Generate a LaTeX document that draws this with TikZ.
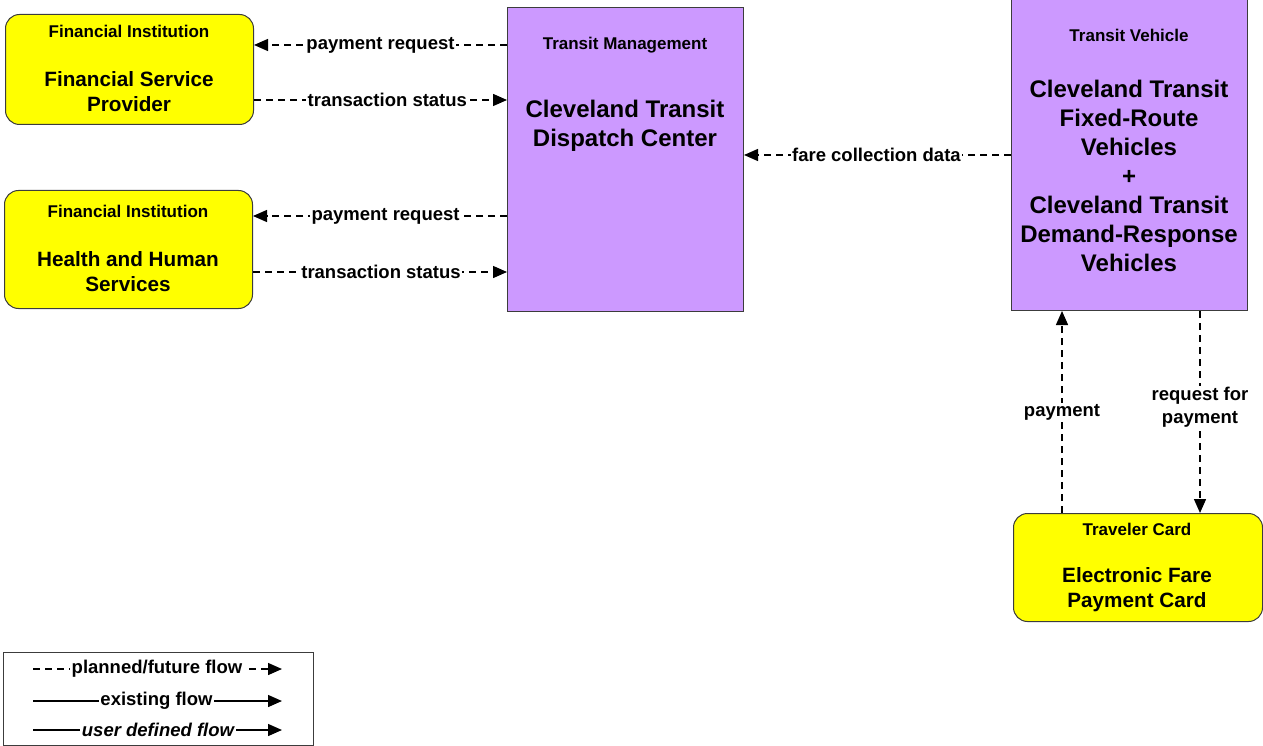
\documentclass[tikz,border=0pt]{standalone}
\usepackage{fontspec}
\setmainfont{Liberation Sans}
\usetikzlibrary{arrows.meta,calc}
\definecolor{yel}{RGB}{255,255,0}
\definecolor{purp}{RGB}{204,153,255}
\definecolor{edge}{RGB}{60,60,60}
\tikzset{
 ybox/.style={draw=edge, line width=1pt, fill=yel, rounded corners=14pt, inner sep=0pt, anchor=north west},
 pbox/.style={draw=edge, line width=1pt, fill=purp, inner sep=0pt, anchor=north west},
 hdr/.style={font=\fontsize{17}{20}\selectfont\bfseries, inner sep=0pt},
 ttl/.style={font=\fontsize{20.7}{25}\selectfont\bfseries, align=center, inner sep=0pt},
 big/.style={font=\fontsize{24}{29}\selectfont\bfseries, align=center, inner sep=0pt},
 tip/.style={-{Triangle[length=14pt,width=12pt]}},
 flow/.style={line width=1.4pt, dash pattern=on 7pt off 5pt, tip},
 solidflow/.style={line width=1.4pt, tip},
 lbl/.style={font=\fontsize{18.5}{23}\selectfont\bfseries, fill=white, inner sep=1.5pt, align=center},
 leglbl/.style={font=\fontsize{18.5}{23}\selectfont\bfseries, fill=white, inner sep=1.5pt}
}
\begin{document}
\begin{tikzpicture}[x=1pt,y=-1pt]
\useasboundingbox (0,0) rectangle (1263,746);
% boxes
\node[ybox, minimum width=248pt, minimum height=110pt] (fsp) at (5,14) {};
\node[ybox, minimum width=248pt, minimum height=118pt] (hhs) at (4,190) {};
\node[pbox, minimum width=236pt, minimum height=304pt] (tm) at (507,7) {};
\node[pbox, minimum width=236pt, minimum height=313pt] (tv) at (1011,-3) {};
\node[ybox, minimum width=249pt, minimum height=108pt] (card) at (1013,513) {};
% texts
\node[hdr] (fsph) at (129,31) {Financial Institution};
\node[ttl] (fspt) at (129,91.5) {Financial Service\\Provider};
\node[hdr] (hhsh) at (128,211) {Financial Institution};
\node[ttl] (hhst) at (128,271.5) {Health and Human\\Services};
\node[hdr] (tmh) at (625,45) {Transit Management};
\node[big] (tmt) at (625,125.5) {Cleveland Transit\\Dispatch Center};
\node[hdr] (tvh) at (1129,35) {Transit Vehicle};
\node[big] (tvt) at (1129,176) {Cleveland Transit\\Fixed-Route\\Vehicles\\+\\Cleveland Transit\\Demand-Response\\Vehicles};
\node[hdr] (cardh) at (1137,529) {Traveler Card};
\node[ttl] (cardt) at (1137,589.5) {Electronic Fare\\Payment Card};
% flows
\draw[flow] (tm.west |- 0,45) -- node[lbl,pos=.5]{payment request} (fsp.east |- 0,45);
\draw[flow] (fsp.east |- 0,100) -- node[lbl,pos=.527]{transaction status} (tm.west |- 0,100);
\draw[flow] (tm.west |- 0,216) -- node[lbl,pos=.478]{payment request} (hhs.east |- 0,216);
\draw[flow] (hhs.east |- 0,272) -- node[lbl,pos=.504]{transaction status} (tm.west |- 0,272);
\draw[flow] (tv.west |- 0,155) -- node[lbl,pos=.504]{fare collection data} (tm.east |- 0,155);
\draw[flow] (card.north -| 1062,0) -- node[lbl,pos=.5]{payment} (tv.south -| 1062,0);
\draw[flow] (tv.south -| 1200,0) -- node[lbl,pos=.478]{request for\\payment} (card.north -| 1200,0);
% legend
\node[draw=edge, line width=1pt, minimum width=310pt, minimum height=93pt, inner sep=0pt, anchor=north west] (legend) at (3,652) {};
\coordinate (l1a) at (33,669); \coordinate (l1b) at (282,669);
\coordinate (l2a) at (33,701); \coordinate (l2b) at (282,701);
\coordinate (l3a) at (33,730); \coordinate (l3b) at (282,730);
\draw[flow] (l1a) -- node[leglbl,pos=.498]{planned/future flow} (l1b);
\draw[solidflow] (l2a) -- node[leglbl,pos=.496]{existing flow} (l2b);
\draw[solidflow] (l3a) -- node[leglbl,pos=.502]{\itshape user defined flow} (l3b);
\end{tikzpicture}
\end{document}
